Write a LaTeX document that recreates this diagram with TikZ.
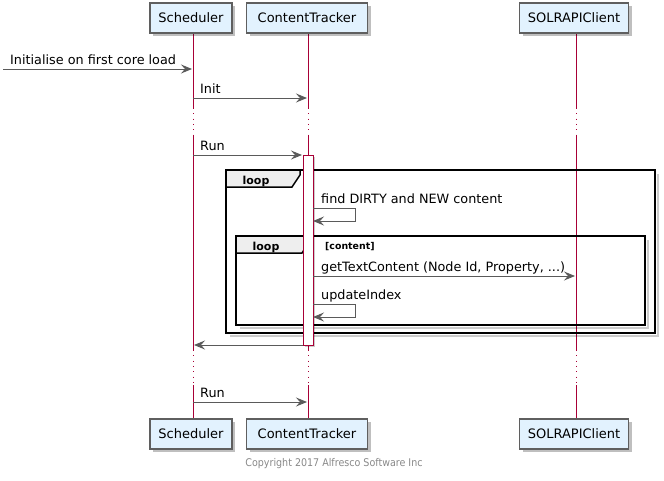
\documentclass[tikz,border=0pt]{standalone}
\usepackage{fontspec}
\setmainfont{DejaVu Sans}
\newfontfamily\condfont{DejaVu Sans Condensed}
\usetikzlibrary{arrows.meta,shadows}
\definecolor{lifecolor}{RGB}{168,0,54}
\definecolor{boxfill}{RGB}{226,242,254}
\definecolor{boxborder}{RGB}{95,95,95}
\definecolor{msgcolor}{RGB}{90,90,90}
\definecolor{tabfill}{RGB}{238,238,238}
\definecolor{notegray}{RGB}{136,136,136}
\tikzset{
  actor/.style={draw=boxborder, fill=boxfill, line width=1.2pt, minimum height=30pt,
    inner sep=0pt, font=\fontsize{13}{15}\selectfont,
    drop shadow={shadow xshift=3pt, shadow yshift=-3pt, fill=black, opacity=0.25}},
  lifeline/.style={draw=lifecolor, line width=0.8pt},
  gap/.style={lifeline, dash pattern=on 0.8pt off 4.5pt},
  msg/.style={draw=msgcolor, line width=1pt, -{Stealth[length=11pt,width=9pt,inset=4pt]}},
  msglabel/.style={anchor=base west, inner sep=0pt, font=\fontsize{12.8}{15}\selectfont},
  frameline/.style={draw=black, line width=1.5pt},
  frameshadow/.style={draw=black, opacity=0.2, line width=2pt},
}
% message: name, x from, x to, y, label
\newcommand{\seqmsg}[5]{%
  \coordinate (#1-from) at (#2,#4);
  \coordinate (#1-to) at (#3,#4);
  \draw[msg] (#1-from) -- (#1-to);
  \node[msglabel] (#1-label) at ([xshift=7pt, yshift=4.5pt]#1-from) {#5};
}
% self message: name, y, label
\newcommand{\seqself}[3]{%
  \coordinate (#1-from) at (313,#2);
  \coordinate (#1-to) at (313,#2+13);
  \draw[msg] (#1-from) -- ++(42,0) -- ++(0,13) -- (#1-to);
  \node[msglabel] (#1-label) at ([xshift=8pt, yshift=4.5pt]#1-from) {#3};
}
% loop frame: x1, y1, x2, y2
\newcommand{\loopframe}[4]{%
  \draw[frameshadow] (#1+4,#4+2.5) -- (#3+2.5,#4+2.5) -- (#3+2.5,#2+4);
  \draw[frameline] (#1,#2) rectangle (#3,#4);
  \filldraw[frameline, fill=tabfill] (#1,#2) -- (#1+74,#2) -- (#1+74,#2+5)
    -- (#1+66,#2+17) -- (#1,#2+17) -- cycle;
  \node[font=\bfseries\fontsize{11}{13}\selectfont, anchor=base, inner sep=0pt]
    at (#1+30,#2+14) {loop};
}

\begin{document}
\begin{tikzpicture}[x=1pt, y=-1pt]
    \useasboundingbox (0,0) rectangle (664,480);
    % Lifelines
    \foreach \x in {193,308,576} {
      \draw[lifeline] (\x,33) -- (\x,108);
      \draw[gap] (\x,108) -- (\x,135);
      \draw[lifeline] (\x,135) -- (\x,350);
      \draw[gap] (\x,350) -- (\x,385);
      \draw[lifeline] (\x,385) -- (\x,419);
    }
    % Participants
    \node[actor, minimum width=82pt] (sch-top) at (191,18) {Scheduler};
    \node[actor, minimum width=121pt] (ct-top) at (307,18) {ContentTracker};
    \node[actor, minimum width=109pt] (sol-top) at (574,18) {SOLRAPIClient};
    \node[actor, minimum width=82pt] (sch-bot) at (191,434) {Scheduler};
    \node[actor, minimum width=121pt] (ct-bot) at (307,434) {ContentTracker};
    \node[actor, minimum width=109pt] (sol-bot) at (574,434) {SOLRAPIClient};
    % Loops
    \loopframe{226}{170}{655}{333}
    \loopframe{236}{236}{645}{325}
    \node[font=\bfseries\fontsize{9.4}{11}\selectfont, anchor=base west, inner sep=0pt]
      (cond) at (325,249) {[content]};
    % Activation
    \draw[lifecolor, line width=0.8pt, fill=white,
      drop shadow={shadow xshift=2pt, shadow yshift=-2pt, fill=black, opacity=0.2}]
      (303,155) rectangle (313,345);
    % Messages
    \seqmsg{start}{3}{192}{69}{Initialise on first core load}
    \seqmsg{init}{193}{307}{98}{Init}
    \seqmsg{run}{193}{302}{155}{Run}
    \seqself{find}{208}{find DIRTY and NEW content}
    \seqmsg{get}{313}{575}{276}{\hspace{1pt}getTextContent (Node Id, Property, ...)}
    \seqself{update}{304}{updateIndex}
    \seqmsg{back}{303}{194}{345}{}
    \seqmsg{rerun}{193}{307}{402}{Run}
    % Footer
    \node[font=\condfont\fontsize{10.6}{12}\selectfont, text=notegray] (copy) at (334,464)
      {Copyright 2017 Alfresco Software Inc};
\end{tikzpicture}
\end{document}
